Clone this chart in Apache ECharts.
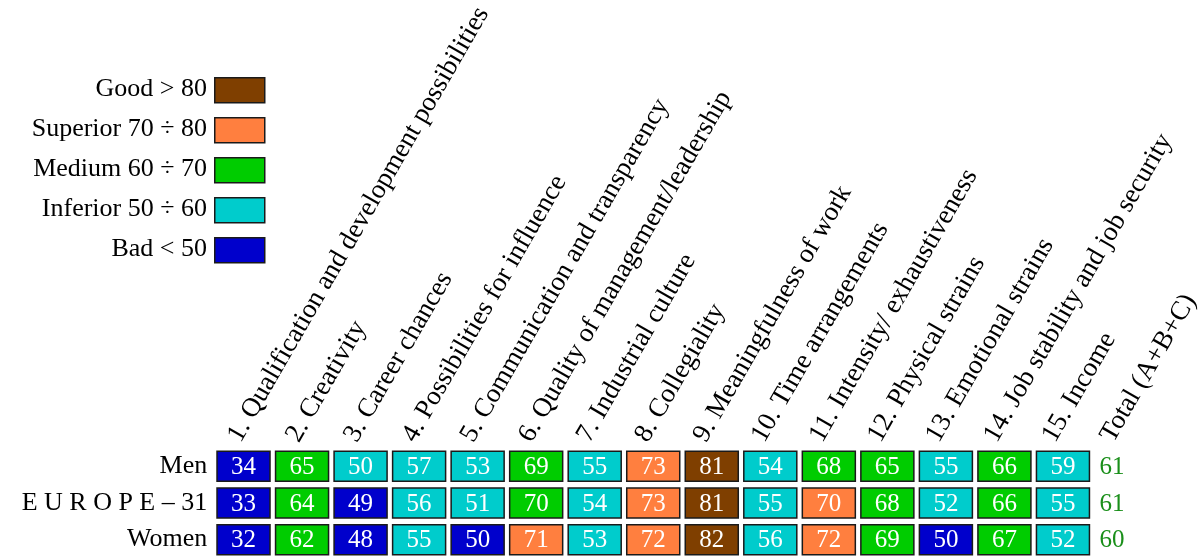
<!DOCTYPE html>
<html>
<head>
<meta charset="utf-8">
<script src="https://cdn.jsdelivr.net/npm/echarts@6/dist/echarts.min.js"></script>
<style>
html,body{margin:0;padding:0;background:#fff;}
#chart{width:1203px;height:558px;}
</style>
</head>
<body>
<div id="chart"></div>
<script>
// ---- data ----
const categories = [
  '1. Qualification and development possibilities',
  '2. Creativity',
  '3. Career chances',
  '4. Possibilities for influence',
  '5. Communication and transparency',
  '6. Quality of management/leadership',
  '7. Industrial culture',
  '8. Collegiality',
  '9. Meaningfulness of work',
  '10. Time arrangements',
  '11. Intensity/ exhaustiveness',
  '12. Physical strains',
  '13. Emotional strains',
  '14. Job stability and job security',
  '15. Income',
  'Total (A+B+C)'
];
const rowLabels = ['Men', 'E U R O P E \u2013 31', 'Women'];
const menValues    = [34, 65, 50.2, 57, 53, 69, 55, 73, 81, 54, 68, 65, 55, 66, 59];
const europeValues = [33, 64, 49, 56, 51, 69.6, 54, 73, 81, 55, 70.4, 68, 52, 66, 55];
const womenValues  = [32, 62, 48, 55, 49.6, 71, 53, 72, 82, 56, 72, 69, 49.8, 67, 52];
const totalValues  = [61, 61, 60];

const legendLabels = ['Good > 80', 'Superior 70 \u00f7 80', 'Medium 60 \u00f7 70', 'Inferior 50 \u00f7 60', 'Bad < 50'];
const legendColors = ['#7f3f00', '#ff7f3f', '#00cc00', '#00cccc', '#0000cc'];
const legendThresholds = [80, 70, 60, 50, -Infinity];

// ---- build ----
const rows = [menValues, europeValues, womenValues];
const cellData = [];
rows.forEach((vals, r) => vals.forEach((v, c) => cellData.push([c, r, v])));
const totalData = totalValues.map((v, r) => [categories.length - 1, r, v]);

function colorFor(v) {
  for (let i = 0; i < legendThresholds.length; i++) {
    if (v >= legendThresholds[i]) return legendColors[i];
  }
  return legendColors[legendColors.length - 1];
}

const FONT = '"Liberation Serif", "Times New Roman", serif';

const graphic = [];
legendLabels.forEach((lab, i) => {
  const y = 77 + i * 40;
  graphic.push({
    type: 'rect', left: 214, top: y,
    shape: { width: 50, height: 25 },
    style: { fill: legendColors[i], stroke: '#1a1a1a', lineWidth: 1.5 }
  });
  graphic.push({
    type: 'text', right: 1203 - 207, top: y + 12.5 - 13,
    style: { text: lab, font: '26px ' + FONT, fill: '#000', textAlign: 'right' }
  });
});

const chart = echarts.init(document.getElementById('chart'), null, { renderer: 'canvas' });
const GL = 214.25, GW = 936.5;
chart.setOption({
  animation: false,
  backgroundColor: '#fff',
  graphic: graphic,
  grid: [
    { left: GL, top: 448, width: GW, height: 114, containLabel: false },
    { left: GL - 9, top: 448, width: GW, height: 10, containLabel: false }
  ],
  xAxis: [
    { type: 'category', gridIndex: 0, data: categories, show: false },
    {
      type: 'category', gridIndex: 1, data: categories, position: 'top',
      axisLine: { show: false }, axisTick: { show: false }, splitLine: { show: false },
      axisLabel: { interval: 0, rotate: -60, margin: 12, fontFamily: FONT, fontSize: 27, color: '#000' }
    }
  ],
  yAxis: [
    {
      type: 'category', gridIndex: 0, data: rowLabels, inverse: true,
      axisLine: { show: false }, axisTick: { show: false }, splitLine: { show: false },
      axisLabel: { margin: 7, fontFamily: FONT, fontSize: 26, color: '#000', padding: [4, 0, 0, 0] }
    },
    { type: 'category', gridIndex: 1, data: ['a'], show: false }
  ],
  series: [
    {
      type: 'custom',
      xAxisIndex: 0, yAxisIndex: 0,
      data: cellData,
      renderItem: function (params, api) {
        const c = api.coord([api.value(0), api.value(1)]);
        const v = api.value(2);
        const w = 53, h = 30;
        return {
          type: 'group',
          children: [
            {
              type: 'rect',
              shape: { x: c[0] - w / 2, y: c[1] - h / 2, width: w, height: h },
              style: { fill: colorFor(v), stroke: '#1a1a1a', lineWidth: 1.5 }
            },
            {
              type: 'text',
              x: c[0], y: c[1] + 1,
              style: { text: String(Math.round(v)), font: '25px ' + FONT, fill: '#fff', align: 'center', verticalAlign: 'middle' }
            }
          ]
        };
      }
    },
    {
      type: 'custom',
      xAxisIndex: 0, yAxisIndex: 0,
      data: totalData,
      renderItem: function (params, api) {
        const c = api.coord([api.value(0), api.value(1)]);
        return {
          type: 'text',
          x: c[0] - 22, y: c[1] + 1,
          style: { text: String(api.value(2)), font: '25px ' + FONT, fill: '#1a8f1a', align: 'left', verticalAlign: 'middle' }
        };
      }
    }
  ]
});
</script>
</body>
</html>
